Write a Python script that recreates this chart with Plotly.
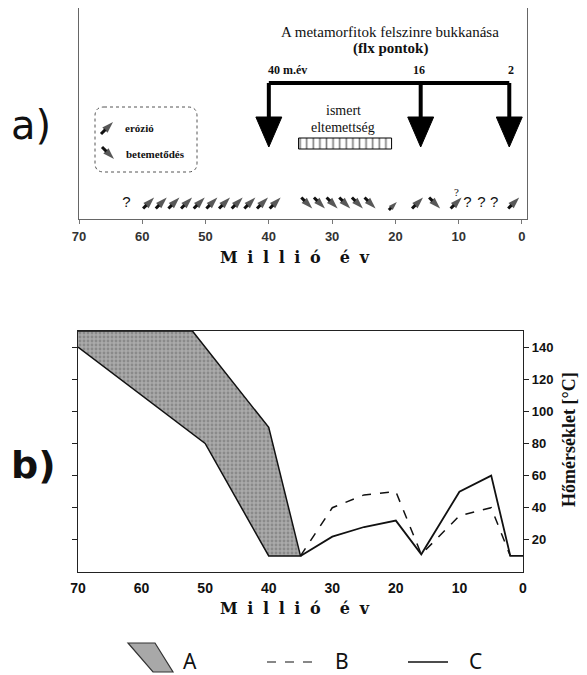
import plotly.graph_objects as go

# ---------------- data ----------------
# panel b: temperature histories (age in Ma, temperature in °C)
A_age = [70, 52, 40, 35, 40, 50, 70]
A_temp = [150, 150, 90, 10, 10, 80, 140]
B_age = [35, 30, 25, 20, 16, 10, 5, 2]
B_temp = [10, 40, 48, 50, 11, 35, 40, 10]
C_age = [35, 30, 25, 20, 16, 10, 5, 2, 0]
C_temp = [10, 22, 28, 32, 11, 50, 60, 10, 10]

x_ticks = [70, 60, 50, 40, 30, 20, 10, 0]
y_ticks = [20, 40, 60, 80, 100, 120, 140]

# panel a: exhumation ages (flx points) and known burial interval
exhum_ages = [40, 16, 2]
exhum_labels = ["40 m.év", "16", "2"]
burial_from, burial_to = 35.3, 20.6

# row of erosion (up) / burial (down) symbols
row_ages = [62.5, 59, 57, 55, 53, 51, 49, 47, 45, 43, 41, 39,
            34, 32, 30, 28, 26, 24, 20.4, 16.5, 13.8, 10.4, 8.6, 6.4, 4.4, 1.3]
row_marks = ["?", "up", "up", "up", "up", "up", "up", "up", "up", "up", "up", "up",
             "dn", "dn", "dn", "dn", "dn", "dn", "up", "up", "dn", "up", "?", "?", "?", "up"]

# the page body has an 8px margin: the figure is drawn from (8, 8)
OFF = 8
W, H = 587 - OFF, 675 - OFF
def px(x):
    return (x - OFF) / W
def py(y):
    return min(1.0, max(0.0, 1 - (y - OFF) / H))

SERIF = "Liberation Serif"
SANS = "Liberation Sans"

fig = go.Figure()

# ---------------- panel a ----------------
A_TOP, A_BOT = 8, 219
A_L, A_R = 79, 527
A_RANGE = [70, -0.8]
XA = (A_R - A_L) / (A_RANGE[0] - A_RANGE[1])  # px per Ma
def ya(y):  # pixel -> panel a data y
    return (A_BOT - y) / (A_BOT - A_TOP)
def xa(x):  # pixel -> panel a age
    return A_RANGE[0] - (x - A_L) / XA

fig.add_trace(go.Scatter(
    x=[exhum_ages[0], exhum_ages[-1]], y=[ya(83), ya(83)], mode="lines",
    line=dict(color="black", width=4), xaxis="x", yaxis="y", showlegend=False, hoverinfo="skip"))
for a in exhum_ages:
    fig.add_trace(go.Scatter(
        x=[a, a], y=[ya(83), ya(120)], mode="lines",
        line=dict(color="black", width=4), xaxis="x", yaxis="y", showlegend=False, hoverinfo="skip"))
    fig.add_trace(go.Scatter(
        x=[a - 2.05, a + 2.05, a, a - 2.05], y=[ya(117), ya(117), ya(147), ya(117)],
        mode="lines", fill="toself", fillcolor="black", line=dict(color="black", width=1),
        xaxis="x", yaxis="y", showlegend=False, hoverinfo="skip"))

# hatched burial box
fig.add_trace(go.Scatter(
    x=[burial_from, burial_to, burial_to, burial_from, burial_from],
    y=[ya(138), ya(138), ya(149), ya(149), ya(138)],
    mode="lines", fill="toself", fillcolor="white",
    fillpattern=dict(shape="|", size=6.6, solidity=0.25, fgcolor="black", bgcolor="white"),
    line=dict(color="black", width=1), xaxis="x", yaxis="y", showlegend=False, hoverinfo="skip"))

# question marks
q_ages = [a for a, m in zip(row_ages, row_marks) if m == "?"]
fig.add_trace(go.Scatter(
    x=q_ages, y=[ya(203)] * len(q_ages), mode="text", text=["?"] * len(q_ages),
    textfont=dict(family=SANS, size=15, color="#111"),
    xaxis="x", yaxis="y", showlegend=False, hoverinfo="skip"))

# arrows: list of (centre px x, centre px y, kind, half-length px)
arrow_specs = []
for a, m in zip(row_ages, row_marks):
    if m == "?":
        continue
    small = abs(a - 20.4) < 0.01
    cx = A_L + (A_RANGE[0] - a) * XA
    arrow_specs.append((cx, 206 if small else 203, m, 4 if small else 5.5))
arrow_specs.append((107, 128, "up", 6))   # legend: erózió
arrow_specs.append((108, 153, "dn", 6))   # legend: betemetődés

ax_, ay_, asz = [], [], []
for cx, cy, kind, h in arrow_specs:
    sgn = 1 if kind == "up" else -1
    tail = (cx - h, cy + sgn * h)
    head = (cx + h, cy - sgn * h)
    ax_ += [xa(tail[0]), xa(head[0]), None]
    ay_ += [ya(tail[1]), ya(head[1]), None]
    asz += [0, 12 if h > 4.5 else 9, 0]
fig.add_trace(go.Scatter(
    x=ax_, y=ay_, mode="lines+markers", line=dict(color="#111", width=3),
    marker=dict(symbol="arrow", size=asz, angleref="previous", color="#111",
                line=dict(width=0)),
    xaxis="x", yaxis="y", showlegend=False, hoverinfo="skip", connectgaps=False))

# ---------------- panel b ----------------
fig.add_trace(go.Scatter(
    x=A_age, y=A_temp, mode="lines", fill="toself", fillcolor="#a0a0a0",
    fillpattern=dict(shape=".", size=4, solidity=0.4, fgcolor="#6a6a6a", bgcolor="#aaaaaa"),
    line=dict(color="#111", width=1.5), xaxis="x2", yaxis="y2", name="A", showlegend=False))
fig.add_trace(go.Scatter(
    x=B_age, y=B_temp, mode="lines", line=dict(color="#111", width=1.5, dash="dash"),
    xaxis="x2", yaxis="y2", name="B", showlegend=False))
fig.add_trace(go.Scatter(
    x=C_age, y=C_temp, mode="lines", line=dict(color="#111", width=1.8),
    xaxis="x2", yaxis="y2", name="C", showlegend=False))

fig.update_layout(
    width=W, height=H, margin=dict(l=0, r=0, t=0, b=0, autoexpand=False),
    paper_bgcolor="white", plot_bgcolor="white",
    xaxis=dict(domain=[px(A_L), px(A_R)], range=A_RANGE, tickvals=x_ticks,
               ticks="outside", ticklen=4, tickcolor="#777",
               tickfont=dict(family=SANS, size=13, color="#333", weight="bold"),
               showline=True, linecolor="#666", linewidth=1, mirror=True, showgrid=False,
               zeroline=False, anchor="y", ticklabelstandoff=1, automargin=False),
    yaxis=dict(domain=[py(A_BOT), py(A_TOP)], range=[0, 1], showticklabels=False, ticks="",
               showline=True, linecolor="#666", linewidth=1, mirror=True, showgrid=False,
               zeroline=False, anchor="x", automargin=False),
    xaxis2=dict(domain=[px(78), px(523)], range=[70, 0], tickvals=x_ticks,
                ticks="", tickfont=dict(family=SANS, size=14, color="#111", weight="bold"),
                showline=True, linecolor="#222", linewidth=1.2,
                mirror=True, showgrid=False, zeroline=False, anchor="y2", ticklabelstandoff=3,
                automargin=False),
    yaxis2=dict(domain=[py(572), py(331)], range=[0, 150], tickvals=y_ticks, side="right",
                ticks="outside", ticklen=5, tickcolor="#222",
                tickfont=dict(family=SANS, size=13, color="#111", weight="bold"),
                showline=True, linecolor="#222", linewidth=1.2, mirror="ticks",
                showgrid=False, zeroline=False, anchor="x2", automargin=False),
)

ann = []
def text(x, y, t, size, family=SERIF, bold=False, xanchor="center", angle=0, color="#111"):
    ann.append(dict(x=px(x), y=py(y), xref="paper", yref="paper", text=t, showarrow=False,
                    xanchor=xanchor, yanchor="middle", textangle=angle,
                    font=dict(family=family, size=size, color=color,
                              weight="bold" if bold else "normal")))

# panel a texts
text(390, 32, "A metamorfitok felszinre bukkanása", 15)
text(390, 48, "(flx pontok)", 15, bold=True)
text(266, 70, exhum_labels[0], 12, bold=True, xanchor="left")
text(419, 70, exhum_labels[1], 12, bold=True)
text(511, 70, exhum_labels[2], 12, bold=True)
text(343, 111, "ismert", 14)
text(343, 127, "eltemettség", 14)
text(456, 192, "?", 11)
text(123, 128, "erózió", 11, bold=True, xanchor="left")
text(124, 154, "betemetődés", 11, bold=True, xanchor="left")

# axis titles (letter-spaced)
SP = "\u2002\u200a"
title_x = SP.join(list("Millió")) + SP + SP + SP.join(list("év"))
text(295, 258, title_x, 16, family="DejaVu Serif", bold=True)
text(295, 608, title_x, 16, family="DejaVu Serif", bold=True)
text(569, 440, "Hőmérséklet [°C]", 18, bold=True, angle=-90)

# panel labels
text(9, 125, "a)", 40, family="DejaVu Sans", xanchor="left")
text(9, 465, "b)", 38, family="DejaVu Sans", bold=True, xanchor="left")

# bottom legend
text(181, 661, "A", 21, family="Noto Sans", xanchor="left")
text(333, 661, "B", 21, family="Noto Sans", xanchor="left")
text(467, 661, "C", 21, family="Noto Sans", xanchor="left")

fig.update_layout(annotations=ann)

# rounded legend box (panel a)
x0, x1, y0, y1, r = 95, 197, 107, 172, 9
path = (f"M {px(x0 + r)},{py(y0)} L {px(x1 - r)},{py(y0)} Q {px(x1)},{py(y0)} {px(x1)},{py(y0 + r)} "
        f"L {px(x1)},{py(y1 - r)} Q {px(x1)},{py(y1)} {px(x1 - r)},{py(y1)} "
        f"L {px(x0 + r)},{py(y1)} Q {px(x0)},{py(y1)} {px(x0)},{py(y1 - r)} "
        f"L {px(x0)},{py(y0 + r)} Q {px(x0)},{py(y0)} {px(x0 + r)},{py(y0)} Z")
shapes = [dict(type="path", path=path, xref="paper", yref="paper",
               line=dict(color="#555", width=1, dash="dot"))]
# legend swatch A
sw = f"M {px(128)},{py(643)} L {px(155)},{py(643)} L {px(173)},{py(672)} L {px(153)},{py(672)} Z"
shapes.append(dict(type="path", path=sw, xref="paper", yref="paper", fillcolor="#a8a8a8",
                   line=dict(color="#333", width=1.2)))
shapes.append(dict(type="line", x0=px(267), x1=px(313), y0=py(662), y1=py(662), xref="paper",
                   yref="paper", line=dict(color="#111", width=1.2, dash="dash")))
shapes.append(dict(type="line", x0=px(408), x1=px(448), y0=py(662), y1=py(662), xref="paper",
                   yref="paper", line=dict(color="#111", width=1.4)))
fig.update_layout(shapes=shapes)

fig.write_html("out.html")
